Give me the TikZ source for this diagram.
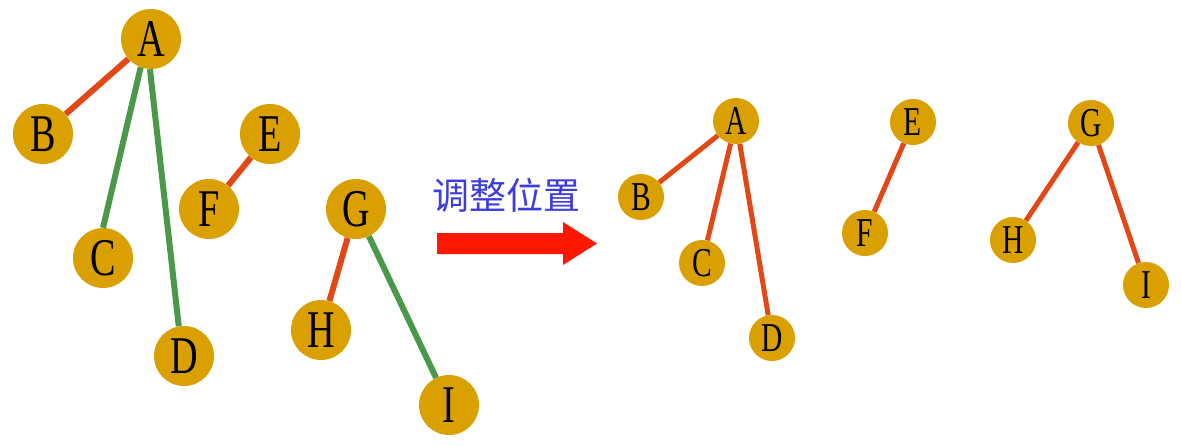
\documentclass[tikz,border=0pt]{standalone}
\usepackage{fontspec}
\newfontfamily\lettfont[FakeStretch=0.72]{Liberation Serif}
\newfontfamily\cjk{Noto Sans CJK SC}

\definecolor{nodegold}{RGB}{217,160,0}
\definecolor{edgered}{RGB}{226,72,22}
\definecolor{edgegreen}{RGB}{74,152,74}
\definecolor{arrowred}{RGB}{255,24,0}
\definecolor{textblue}{RGB}{60,60,225}

\tikzset{
  bigvertex/.style={circle, fill=nodegold, minimum size=60pt, inner sep=0pt,
    font=\lettfont\fontsize{53}{53}\selectfont},
  smallvertex/.style={circle, fill=nodegold, minimum size=46pt, inner sep=0pt,
    font=\lettfont\fontsize{41}{41}\selectfont},
}

\begin{document}
\begin{tikzpicture}[x=1pt, y=-1pt]
    \useasboundingbox (0,0) rectangle (1181,445);
    %% Draw the nodes before the move
    \node[bigvertex] (A) at (151,39) {A};
    \node[bigvertex] (B) at (43,134) {B};
    \node[bigvertex] (C) at (103,258) {C};
    \node[bigvertex] (D) at (184,356) {D};
    \node[bigvertex] (E) at (270,134) {E};
    \node[bigvertex] (F) at (209,209) {F};
    \node[bigvertex] (G) at (356,209) {G};
    \node[bigvertex] (H) at (321,330) {H};
    \node[bigvertex] (I) at (449,405) {I};
    %% Draw the nodes after the move
    \node[smallvertex] (A2) at (736,121) {A};
    \node[smallvertex] (B2) at (641,197) {B};
    \node[smallvertex] (C2) at (702,263) {C};
    \node[smallvertex] (D2) at (772,338) {D};
    \node[smallvertex] (E2) at (913,122) {E};
    \node[smallvertex] (F2) at (865,233) {F};
    \node[smallvertex] (G2) at (1091,123) {G};
    \node[smallvertex] (H2) at (1013,240) {H};
    \node[smallvertex] (I2) at (1146,285) {I};
    %% Draw the label and the arrow
    \node[text=textblue, font=\cjk\fontsize{37}{40}\selectfont] (move) at (506,195) {调整位置};
    \fill[arrowred] (437,233) -- (563,233) -- (563,222) -- (597,243.5)
      -- (563,265) -- (563,254) -- (437,254) -- cycle;
    %% Draw the edges
    \begin{scope}[every path/.style={line width=6pt}]
      \draw[edgered] (A) -- (B);
      \draw[edgegreen] (A.250) -- (C.north);
      \draw[edgegreen] (A.268) -- (D.100);
      \draw[edgered] (E) -- (F);
      \draw[edgered] (G) -- (H);
      \draw[edgegreen] (G) -- (I);
    \end{scope}
    \begin{scope}[every path/.style={line width=5pt, edgered}]
      \draw (A2) -- (B2);
      \draw (A2) -- (C2);
      \draw (A2) -- (D2);
      \draw (E2) -- (F2);
      \draw (G2) -- (H2);
      \draw (G2) -- (I2);
    \end{scope}
  \end{tikzpicture}
\end{document}
